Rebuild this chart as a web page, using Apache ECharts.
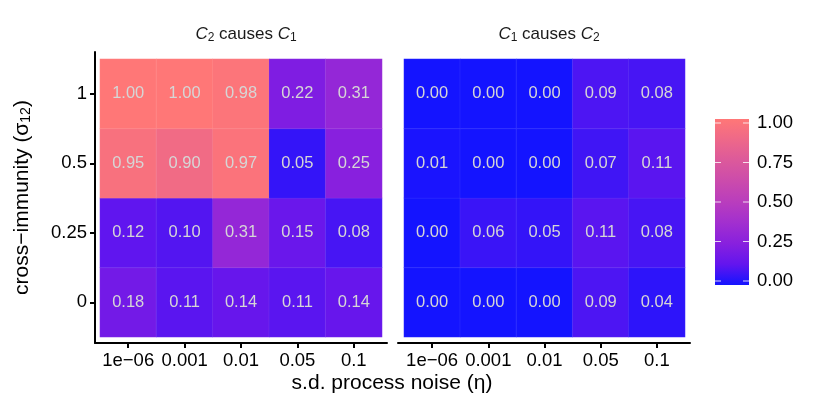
<!DOCTYPE html>
<html>
<head>
<meta charset="utf-8">
<script src="https://cdn.jsdelivr.net/npm/echarts@6/dist/echarts.min.js"></script>
<style>
  html, body { margin: 0; padding: 0; background: #fff; }
  #chart { width: 830px; height: 415px; }
</style>
</head>
<body>
<div id="chart"></div>
<script>
// categories
const noiseLevels = ['1e\u221206', '0.001', '0.01', '0.05', '0.1'];
const crossImmunity = ['0', '0.25', '0.5', '1'];   // bottom -> top

// rows follow crossImmunity order (sigma = 0, 0.25, 0.5, 1)
const c2CausesC1 = [
  [0.18, 0.11, 0.14, 0.11, 0.14],
  [0.12, 0.10, 0.31, 0.15, 0.08],
  [0.95, 0.90, 0.97, 0.05, 0.25],
  [1.00, 1.00, 0.98, 0.22, 0.31]
];
const c1CausesC2 = [
  [0.00, 0.00, 0.00, 0.09, 0.04],
  [0.00, 0.06, 0.05, 0.11, 0.08],
  [0.01, 0.00, 0.00, 0.07, 0.11],
  [0.00, 0.00, 0.00, 0.09, 0.08]
];

// colour bar
const legendTicks = [0, 0.25, 0.5, 0.75, 1];
const palette = ['#1414ff', '#6315ee', '#8820de', '#a22fcf', '#b93dbd',
                 '#cb4bac', '#dc599b', '#ee6889', '#ff7777'];

const FONT = '"Liberation Sans", Arial, Helvetica, sans-serif';

function toCells(matrix) {
  const out = [];
  matrix.forEach(function (row, yi) {
    row.forEach(function (v, xi) { out.push([xi, yi, v]); });
  });
  return out;
}

const chart = echarts.init(document.getElementById('chart'));

// data axes (cells), axis line is drawn by the frame axes
function dataXAxis(gi) {
  return {
    type: 'category', gridIndex: gi, data: noiseLevels, offset: 6,
    axisLine: { show: false },
    axisTick: { show: true, alignWithLabel: true, length: 5, lineStyle: { color: '#000', width: 2 } },
    axisLabel: { color: '#000', fontSize: 18.5, margin: 8, interval: 0, fontFamily: FONT },
    splitLine: { show: false }
  };
}
function dataYAxis(gi, showLabels) {
  return {
    type: 'category', gridIndex: gi, data: crossImmunity, offset: 5,
    axisLine: { show: false },
    axisTick: { show: showLabels, alignWithLabel: true, length: 5, lineStyle: { color: '#000', width: 2 } },
    axisLabel: { show: showLabels, color: '#000', fontSize: 18.5, margin: 8, fontFamily: FONT },
    splitLine: { show: false }
  };
}
function frameAxis(gi, show) {
  return {
    type: 'value', gridIndex: gi, min: 0, max: 1, show: show,
    axisLine: { show: true, lineStyle: { color: '#000', width: 2 } },
    axisTick: { show: false }, axisLabel: { show: false }, splitLine: { show: false }
  };
}

const cellLabel = {
  show: true, color: '#d6d6d6', fontSize: 16.5, fontFamily: FONT,
  formatter: function (p) { return p.value[2].toFixed(2); }
};

const titleRich = {
  c: { fontStyle: 'italic', fontWeight: 'normal', fontSize: 17, color: '#1a1a1a', fontFamily: FONT },
  s: { fontWeight: 'normal', fontSize: 12, color: '#1a1a1a', padding: [8, 0, 0, 0], fontFamily: FONT },
  n: { fontWeight: 'normal', fontSize: 17, color: '#1a1a1a', fontFamily: FONT }
};

const option = {
  backgroundColor: '#fff',
  animation: false,
  textStyle: { fontFamily: FONT },
  title: [
    {
      text: '{c|C}{s|2}{n| causes }{c|C}{s|1}',
      left: 241, top: 19, textAlign: 'center',
      textStyle: { fontWeight: 'normal', rich: titleRich }
    },
    {
      text: '{c|C}{s|1}{n| causes }{c|C}{s|2}',
      left: 544, top: 19, textAlign: 'center',
      textStyle: { fontWeight: 'normal', rich: titleRich }
    }
  ],
  grid: [
    { left: 100, right: 448, top: 59, bottom: 78 },   // left cells
    { left: 404, right: 145, top: 59, bottom: 78 },   // right cells
    { left: 95, right: 443, top: 52, bottom: 72 },    // left frame
    { left: 398, right: 140, top: 52, bottom: 72 },   // right frame
    { left: 715, width: 34, top: 123, height: 158 }   // colour bar
  ],
  xAxis: [
    dataXAxis(0),
    dataXAxis(1),
    frameAxis(2, true),
    frameAxis(3, true),
    { type: 'value', gridIndex: 4, min: 0, max: 1, show: false }
  ],
  yAxis: [
    dataYAxis(0, true),
    dataYAxis(1, false),
    Object.assign(frameAxis(2, true), {
      name: '{n|cross\u2212immunity (}{g|\u03c3}{s|12}{n|)}',
      nameLocation: 'middle', nameGap: 62, nameRotate: 90,
      nameTextStyle: {
        rich: {
          n: { fontSize: 21, color: '#000', fontFamily: FONT },
          g: { fontSize: 21, color: '#000', fontFamily: FONT },
          s: { fontSize: 14, color: '#000', padding: [8, 0, 0, 0], fontFamily: FONT }
        }
      }
    }),
    frameAxis(3, false),
    {
      type: 'value', gridIndex: 4, min: 0, max: 1, interval: 0.25, position: 'right',
      axisLine: { show: false }, axisTick: { show: false }, splitLine: { show: false },
      axisLabel: {
        color: '#000', fontSize: 18.5, margin: 8, fontFamily: FONT,
        formatter: function (v) { return v.toFixed(2); }
      }
    }
  ],
  visualMap: {
    show: false, type: 'continuous', min: 0, max: 1,
    seriesIndex: [0, 1], inRange: { color: palette }
  },
  graphic: [
    {
      // shared x axis title, centred under both panels
      type: 'text', x: 392, y: 383,
      style: {
        text: 's.d. process noise (\u03b7)', fontSize: 21, fill: '#000', fontFamily: FONT,
        textAlign: 'center', textVerticalAlign: 'middle'
      }
    }
  ],
  series: [
    {
      type: 'heatmap', xAxisIndex: 0, yAxisIndex: 0,
      data: toCells(c2CausesC1), label: cellLabel,
      itemStyle: { borderWidth: 0.6, borderColor: 'rgba(255,255,255,0.12)' },
      emphasis: { disabled: true }
    },
    {
      type: 'heatmap', xAxisIndex: 1, yAxisIndex: 1,
      data: toCells(c1CausesC2), label: cellLabel,
      itemStyle: { borderWidth: 0.6, borderColor: 'rgba(255,255,255,0.12)' },
      emphasis: { disabled: true }
    },
    {
      // colour bar drawn in its own grid, ticks from legendTicks
      type: 'custom', xAxisIndex: 4, yAxisIndex: 4, data: [[0.5, 0.5]],
      renderItem: function (params, api) {
        const cs = params.coordSys;
        const stops = palette.map(function (c, i) {
          return { offset: 1 - i / (palette.length - 1), color: c };
        }).reverse();
        const children = [{
          type: 'rect',
          shape: { x: cs.x, y: cs.y - 4, width: cs.width, height: cs.height + 8 },
          style: { fill: new echarts.graphic.LinearGradient(0, 0, 0, 1, stops) }
        }];
        legendTicks.forEach(function (t) {
          const y = api.coord([0, t])[1];
          children.push({ type: 'line', shape: { x1: cs.x, y1: y, x2: cs.x + 6, y2: y },
            style: { stroke: 'rgba(255,255,255,0.8)', lineWidth: 1 } });
          children.push({ type: 'line', shape: { x1: cs.x + cs.width - 6, y1: y, x2: cs.x + cs.width, y2: y },
            style: { stroke: 'rgba(255,255,255,0.8)', lineWidth: 1 } });
        });
        return { type: 'group', children: children };
      }
    }
  ]
};

chart.setOption(option);
</script>
</body>
</html>
